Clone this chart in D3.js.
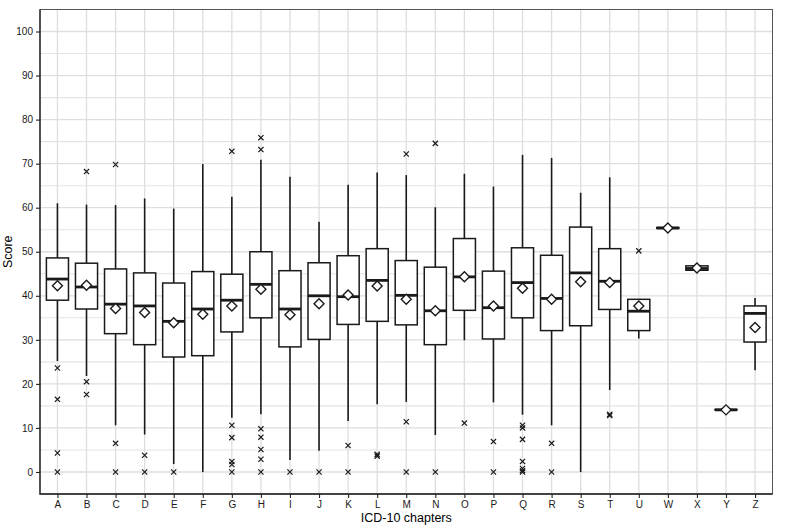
<!DOCTYPE html>
<html>
<head>
<meta charset="utf-8">
<script src="https://cdn.jsdelivr.net/npm/d3@7"></script>
<style>
  body { margin: 0; background: #fff; }
  svg { font-family: "Liberation Sans", Arial, sans-serif; }
</style>
</head>
<body>
<script>
const chapters = ["A","B","C","D","E","F","G","H","I","J","K","L","M","N","O","P","Q","R","S","T","U","W","X","Y","Z"];
const whiskerLow  = [25.2, 21.8, 10.6,  8.5,  1.8,  0.0, 12.3, 13.1,  2.7,  4.8, 11.6, 15.4, 15.9,  8.4, 29.9, 15.8, 13.0, 10.6,  0.0, 18.6, 30.3, 55.3, 45.8, 14.1, 23.1];
const q1          = [39.0, 37.0, 31.4, 28.9, 26.1, 26.4, 31.8, 35.0, 28.4, 30.1, 33.5, 34.2, 33.4, 28.9, 36.7, 30.2, 35.0, 32.1, 33.2, 36.9, 32.1, 55.3, 45.8, 14.1, 29.5];
const medians     = [43.8, 42.0, 38.1, 37.7, 34.2, 37.0, 39.0, 42.6, 37.0, 40.0, 39.8, 43.5, 40.1, 36.6, 44.3, 37.3, 43.0, 39.4, 45.2, 43.3, 36.5, 55.4, 46.2, 14.1, 36.0];
const q3          = [48.6, 47.4, 46.1, 45.2, 42.9, 45.5, 44.9, 50.0, 45.7, 47.5, 49.1, 50.7, 48.0, 46.5, 53.0, 45.6, 50.9, 49.2, 55.6, 50.7, 39.2, 55.5, 46.8, 14.2, 37.7];
const whiskerHigh = [61.0, 60.7, 60.6, 62.1, 59.8, 69.9, 62.5, 70.9, 67.0, 56.8, 65.2, 68.0, 67.4, 60.1, 67.7, 64.8, 72.0, 71.3, 63.4, 66.9, 39.2, 55.5, 46.8, 14.2, 39.5];
const means       = [42.3, 42.4, 37.1, 36.2, 33.9, 35.8, 37.7, 41.5, 35.7, 38.2, 40.2, 42.2, 39.2, 36.6, 44.3, 37.7, 41.7, 39.2, 43.2, 43.0, 37.7, 55.4, 46.3, 14.1, 32.8];
const outliers = [
  [23.6, 16.5, 4.3, 0],
  [68.2, 20.5, 17.6],
  [69.8, 6.5, 0],
  [3.8, 0],
  [0],
  [],
  [72.8, 10.6, 7.8, 2.4, 1.7, 0],
  [75.9, 73.2, 9.8, 7.9, 5.1, 2.9, 0],
  [0],
  [0],
  [6.0, 0],
  [4.0, 3.6],
  [72.2, 11.4, 0],
  [74.6, 0],
  [11.1],
  [6.9, 0],
  [10.6, 10.0, 7.4, 2.4, 0.8, 0.3, 0],
  [6.5, 0],
  [],
  [13.1, 12.8],
  [50.2],
  [], [], [], []
];
const yTicks = [0, 10, 20, 30, 40, 50, 60, 70, 80, 90, 100];
const yMinor = [5, 15, 25, 35, 45, 55, 65, 75, 85, 95];

const W = 800, H = 527;
const panel = { left: 40, right: 772.5, top: 9.5, bottom: 494 };

const svg = d3.select("body").append("svg")
  .attr("width", W).attr("height", H);

const x = d3.scalePoint()
  .domain(chapters)
  .range([panel.left, panel.right])
  .padding(0.6);

const y = d3.scaleLinear()
  .domain([-5, 105])
  .range([panel.bottom, panel.top]);

const boxW = x.step() * 0.76;

const data = chapters.map((c, i) => ({
  c, lo: whiskerLow[i], q1: q1[i], med: medians[i], q3: q3[i], hi: whiskerHigh[i],
  mean: means[i], out: outliers[i]
}));

// gridlines
const grid = svg.append("g");
grid.selectAll(".minor").data(yMinor).enter().append("line")
  .attr("x1", panel.left).attr("x2", panel.right)
  .attr("y1", d => y(d)).attr("y2", d => y(d))
  .attr("stroke", "#e4e4e4").attr("stroke-width", 1.1);
grid.selectAll(".major").data(yTicks).enter().append("line")
  .attr("x1", panel.left).attr("x2", panel.right)
  .attr("y1", d => y(d)).attr("y2", d => y(d))
  .attr("stroke", "#dedede").attr("stroke-width", 1.3);
grid.selectAll(".vmajor").data(chapters).enter().append("line")
  .attr("y1", panel.top).attr("y2", panel.bottom)
  .attr("x1", d => x(d)).attr("x2", d => x(d))
  .attr("stroke", "#dedede").attr("stroke-width", 1.3);

const ink = "#1a1a1a";

const g = svg.selectAll(".box").data(data).enter().append("g")
  .attr("transform", d => `translate(${x(d.c)},0)`);

// whiskers
g.append("line")
  .attr("x1", 0).attr("x2", 0)
  .attr("y1", d => y(d.q3)).attr("y2", d => y(d.hi))
  .attr("stroke", ink).attr("stroke-width", 1.6);
g.append("line")
  .attr("x1", 0).attr("x2", 0)
  .attr("y1", d => y(d.q1)).attr("y2", d => y(d.lo))
  .attr("stroke", ink).attr("stroke-width", 1.6);

// boxes
g.append("rect")
  .attr("x", -boxW / 2).attr("width", boxW)
  .attr("y", d => y(d.q3))
  .attr("height", d => Math.max(0, y(d.q1) - y(d.q3)))
  .attr("fill", "#fff").attr("stroke", ink).attr("stroke-width", 1.5);

// medians
g.append("line")
  .attr("x1", -boxW / 2).attr("x2", boxW / 2)
  .attr("y1", d => y(d.med)).attr("y2", d => y(d.med))
  .attr("stroke", ink).attr("stroke-width", 2.8);

// outliers
const cr = 2.6;
g.selectAll(".out").data(d => d.out).enter().append("path")
  .attr("d", v => `M${-cr},${y(v) - cr}L${cr},${y(v) + cr}M${-cr},${y(v) + cr}L${cr},${y(v) - cr}`)
  .attr("stroke", ink).attr("stroke-width", 1.2).attr("fill", "none");

// means
const dr = 5;
g.append("path")
  .attr("d", d => `M0,${y(d.mean) - dr}L${dr},${y(d.mean)}L0,${y(d.mean) + dr}L${-dr},${y(d.mean)}Z`)
  .attr("fill", "#fff").attr("stroke", ink).attr("stroke-width", 1.4);

// panel border (grey) + axis lines (dark)
svg.append("rect")
  .attr("x", panel.left).attr("y", panel.top)
  .attr("width", panel.right - panel.left).attr("height", panel.bottom - panel.top)
  .attr("fill", "none").attr("stroke", "#555").attr("stroke-width", 1);
svg.append("path")
  .attr("d", `M${panel.left},${panel.top}V${panel.bottom}H${panel.right}`)
  .attr("fill", "none").attr("stroke", "#222").attr("stroke-width", 1.3);

// axes
const yAxis = svg.append("g")
  .attr("transform", `translate(${panel.left},0)`)
  .call(d3.axisLeft(y).tickValues(yTicks).tickSize(4).tickPadding(3));
const xAxis = svg.append("g")
  .attr("transform", `translate(0,${panel.bottom})`)
  .call(d3.axisBottom(x).tickSize(4).tickPadding(3));
[yAxis, xAxis].forEach(a => {
  a.select(".domain").remove();
  a.selectAll(".tick line").attr("stroke", "#222").attr("stroke-width", 1.1);
  a.selectAll(".tick text").attr("fill", "#1a1a1a").style("font-size", "10px")
    .style("font-family", "'Liberation Sans', Arial, sans-serif");
});

svg.append("text")
  .attr("x", (panel.left + panel.right) / 2).attr("y", 522)
  .attr("text-anchor", "middle")
  .style("font-size", "12.5px").attr("fill", "#000")
  .text("ICD-10 chapters");

svg.append("text")
  .attr("transform", `translate(12,${(panel.top + panel.bottom) / 2}) rotate(-90)`)
  .attr("text-anchor", "middle")
  .style("font-size", "12.5px").attr("fill", "#000")
  .text("Score");
</script>
</body>
</html>
